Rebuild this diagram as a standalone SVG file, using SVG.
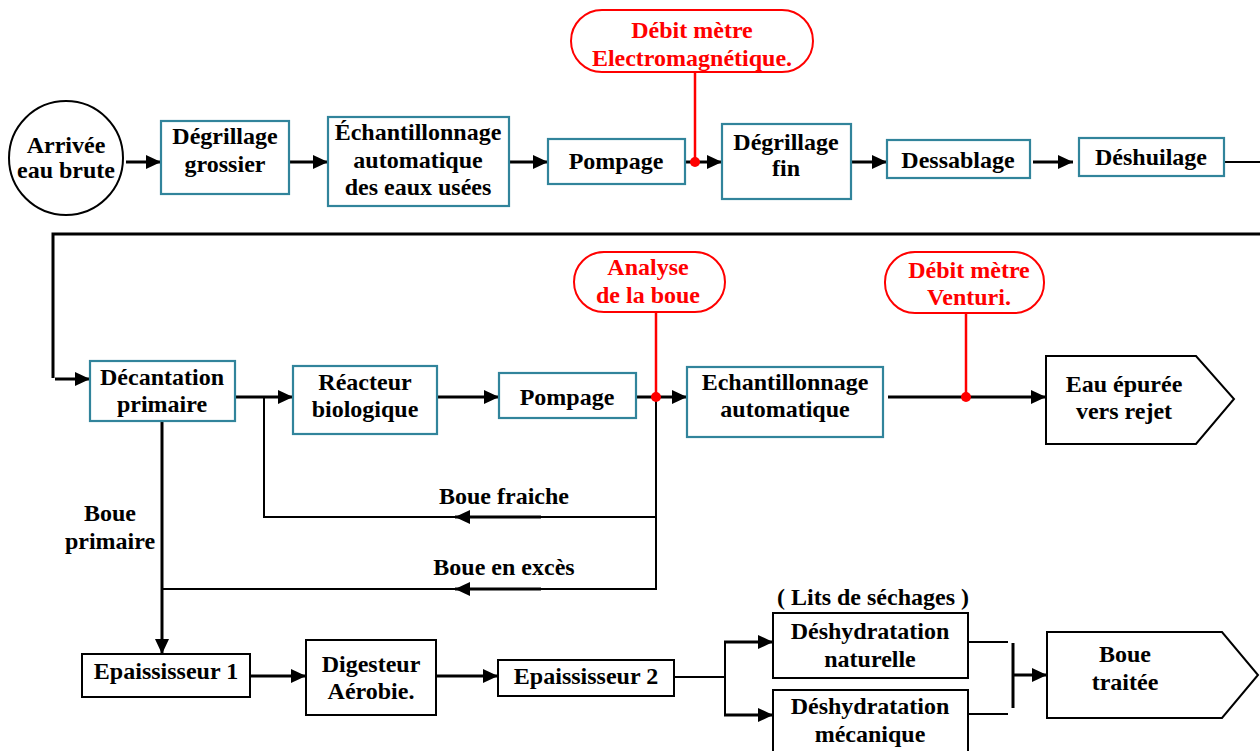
<svg xmlns="http://www.w3.org/2000/svg" width="1260" height="751" viewBox="0 0 1260 751" font-family="'Liberation Serif', Tinos, 'Times New Roman', Times, 'DejaVu Serif', serif">
  <defs>
    <marker id="ah" markerUnits="userSpaceOnUse" markerWidth="16" markerHeight="16" refX="15" refY="7" orient="auto">
      <path d="M0,0 L15,7 L0,14 z" fill="#000"/>
    </marker>
    <style>
      text { font-family: 'Liberation Serif', Tinos, 'Times New Roman', Times, 'DejaVu Serif', serif; font-weight: bold; font-size: 24px; text-anchor: middle; fill: #000; }
      .red text { fill: #ff0000; }
      .tbox { fill: #fff; stroke: #31849b; stroke-width: 2.2; }
      .kbox { fill: #fff; stroke: #000; stroke-width: 2; }
      .rpill { fill: #fff; stroke: #ff0000; stroke-width: 2; }
      .flow { fill: none; stroke: #000; stroke-width: 3; }
      .thin { fill: none; stroke: #000; stroke-width: 2; }
      .probe { fill: none; stroke: #ff0000; stroke-width: 2.5; }
      .dot { fill: #ff0000; }
    </style>
  </defs>
  <rect width="1260" height="751" fill="#fff"/>

  <!-- connectors -->
  <g id="connectors">
    <!-- water line, row 1 -->
    <line class="flow" x1="126" y1="162" x2="161" y2="162" marker-end="url(#ah)"/>
    <line class="flow" x1="290" y1="162" x2="328" y2="162" marker-end="url(#ah)"/>
    <line class="flow" x1="510" y1="162" x2="548" y2="162" marker-end="url(#ah)"/>
    <line class="flow" x1="686" y1="162" x2="722" y2="162" marker-end="url(#ah)"/>
    <line class="flow" x1="852" y1="162" x2="887" y2="162" marker-end="url(#ah)"/>
    <line class="flow" x1="1033" y1="162" x2="1073" y2="162" marker-end="url(#ah)"/>
    <line class="thin" x1="1224" y1="162" x2="1260" y2="162"/>
    <!-- return to row 2 -->
    <polyline class="flow" points="1260,234 53,234 53,378"/>
    <line class="flow" x1="55" y1="379" x2="90" y2="379" marker-end="url(#ah)"/>
    <!-- water line, row 2 -->
    <line class="flow" x1="236" y1="397" x2="293" y2="397" marker-end="url(#ah)"/>
    <line class="flow" x1="438" y1="397" x2="499" y2="397" marker-end="url(#ah)"/>
    <line class="flow" x1="637" y1="397" x2="687" y2="397" marker-end="url(#ah)"/>
    <line class="flow" x1="888" y1="397" x2="1046" y2="397" marker-end="url(#ah)"/>
    <!-- sludge recirculation -->
    <polyline class="thin" points="264,397 264,517 656,517"/>
    <line class="thin" x1="656" y1="397" x2="656" y2="590"/>
    <line class="thin" x1="656" y1="589" x2="162" y2="589"/>
    <line class="flow" x1="541" y1="517" x2="455" y2="517" stroke="#333" marker-end="url(#ah)"/>
    <line class="flow" x1="541" y1="589" x2="455" y2="589" stroke="#333" marker-end="url(#ah)"/>
    <!-- primary sludge -->
    <line class="flow" x1="162" y1="422" x2="162" y2="654" marker-end="url(#ah)"/>
    <!-- sludge line, row 3 -->
    <line class="flow" x1="251" y1="676" x2="306" y2="676" marker-end="url(#ah)"/>
    <line class="flow" x1="437" y1="676" x2="498" y2="676" marker-end="url(#ah)"/>
    <line class="thin" x1="675" y1="677" x2="725" y2="677"/>
    <line class="thin" x1="725" y1="643" x2="725" y2="715"/>
    <line class="flow" x1="724" y1="642" x2="773" y2="642" marker-end="url(#ah)"/>
    <line class="flow" x1="724" y1="715" x2="773" y2="715" marker-end="url(#ah)"/>
    <line class="thin" x1="969" y1="642" x2="1008" y2="642"/>
    <line class="thin" x1="969" y1="714" x2="1008" y2="714"/>
    <line class="flow" x1="1013" y1="643" x2="1013" y2="708"/>
    <line class="flow" x1="1013" y1="675" x2="1047" y2="675" marker-end="url(#ah)"/>
    <!-- measurement taps -->
    <line class="probe" x1="695" y1="68" x2="695" y2="162"/>
    <circle class="dot" cx="695" cy="162" r="5"/>
    <line class="probe" x1="656" y1="300" x2="656" y2="397"/>
    <circle class="dot" cx="656" cy="397" r="5"/>
    <line class="probe" x1="966" y1="305" x2="966" y2="397"/>
    <circle class="dot" cx="966" cy="397" r="5"/>
  </g>

  <!-- row 1 -->
  <g id="arrivee">
    <circle cx="66" cy="158" r="57" fill="#fff" stroke="#000" stroke-width="2"/>
    <text x="66" y="153">Arrivée</text>
    <text x="66" y="178">eau brute</text>
  </g>
  <g id="degrillage-grossier">
    <rect class="tbox" x="161" y="121" width="128" height="73"/>
    <text x="225" y="144">Dégrillage</text>
    <text x="225" y="172">grossier</text>
  </g>
  <g id="echantillonnage-1">
    <rect class="tbox" x="328" y="117" width="181" height="89"/>
    <text x="418" y="140">Échantillonnage</text>
    <text x="418" y="168">automatique</text>
    <text x="418" y="195">des eaux usées</text>
  </g>
  <g id="pompage-1">
    <rect class="tbox" x="548" y="139" width="137" height="45"/>
    <text x="616" y="169">Pompage</text>
  </g>
  <g id="degrillage-fin">
    <rect class="tbox" x="722" y="124" width="129" height="75"/>
    <text x="786" y="150">Dégrillage</text>
    <text x="786" y="176">fin</text>
  </g>
  <g id="dessablage">
    <rect class="tbox" x="887" y="140" width="143" height="38"/>
    <text x="958" y="168">Dessablage</text>
  </g>
  <g id="deshuilage">
    <rect class="tbox" x="1079" y="138" width="145" height="38"/>
    <text x="1151" y="165">Déshuilage</text>
  </g>
  <g id="debitmetre-em" class="red">
    <rect class="rpill" x="571" y="10" width="242" height="62" rx="31" ry="31"/>
    <text x="692" y="38">Débit mètre</text>
    <text x="692" y="66">Electromagnétique.</text>
  </g>

  <!-- row 2 -->
  <g id="decantation">
    <rect class="tbox" x="90" y="361" width="145" height="60"/>
    <text x="162" y="385">Décantation</text>
    <text x="162" y="412">primaire</text>
  </g>
  <g id="reacteur">
    <rect class="tbox" x="293" y="366" width="144" height="68"/>
    <text x="365" y="390">Réacteur</text>
    <text x="365" y="417">biologique</text>
  </g>
  <g id="pompage-2">
    <rect class="tbox" x="499" y="373" width="137" height="45"/>
    <text x="567" y="405">Pompage</text>
  </g>
  <g id="echantillonnage-2">
    <rect class="tbox" x="687" y="367" width="196" height="70"/>
    <text x="785" y="390">Echantillonnage</text>
    <text x="785" y="417">automatique</text>
  </g>
  <g id="eau-epuree">
    <polygon points="1046,356 1196,356 1234,399 1196,444 1046,444" fill="#fff" stroke="#000" stroke-width="2"/>
    <text x="1124" y="392">Eau épurée</text>
    <text x="1124" y="419">vers rejet</text>
  </g>
  <g id="analyse-boue" class="red">
    <rect class="rpill" x="574" y="252" width="151" height="60" rx="30" ry="30"/>
    <text x="648" y="275">Analyse</text>
    <text x="648" y="303">de la boue</text>
  </g>
  <g id="debitmetre-venturi" class="red">
    <rect class="rpill" x="885" y="252" width="159" height="61" rx="30" ry="30"/>
    <text x="969" y="278">Débit mètre</text>
    <text x="969" y="305">Venturi.</text>
  </g>

  <!-- flow labels -->
  <g id="labels">
    <text x="110" y="521">Boue</text>
    <text x="110" y="549">primaire</text>
    <text x="504" y="504">Boue fraiche</text>
    <text x="504" y="575">Boue en excès</text>
  </g>

  <!-- row 3 -->
  <g id="epaississeur-1">
    <rect class="kbox" x="82" y="654" width="168" height="43"/>
    <text x="166" y="679">Epaississeur 1</text>
  </g>
  <g id="digesteur">
    <rect class="kbox" x="306" y="640" width="130" height="75"/>
    <text x="371" y="672">Digesteur</text>
    <text x="371" y="699">Aérobie.</text>
  </g>
  <g id="epaississeur-2">
    <rect class="kbox" x="498" y="660" width="176" height="36"/>
    <text x="586" y="684">Epaississeur 2</text>
  </g>
  <g id="deshydratation-naturelle">
    <text x="873" y="605">( Lits de séchages )</text>
    <rect class="kbox" x="773" y="613" width="195" height="65"/>
    <text x="870" y="639">Déshydratation</text>
    <text x="870" y="667">naturelle</text>
  </g>
  <g id="deshydratation-mecanique">
    <rect class="kbox" x="773" y="690" width="195" height="70"/>
    <text x="870" y="714">Déshydratation</text>
    <text x="870" y="742">mécanique</text>
  </g>
  <g id="boue-traitee">
    <polygon points="1047,632 1222,632 1258,675 1222,718 1047,718" fill="#fff" stroke="#000" stroke-width="2"/>
    <text x="1125" y="662">Boue</text>
    <text x="1125" y="690">traitée</text>
  </g>
</svg>
